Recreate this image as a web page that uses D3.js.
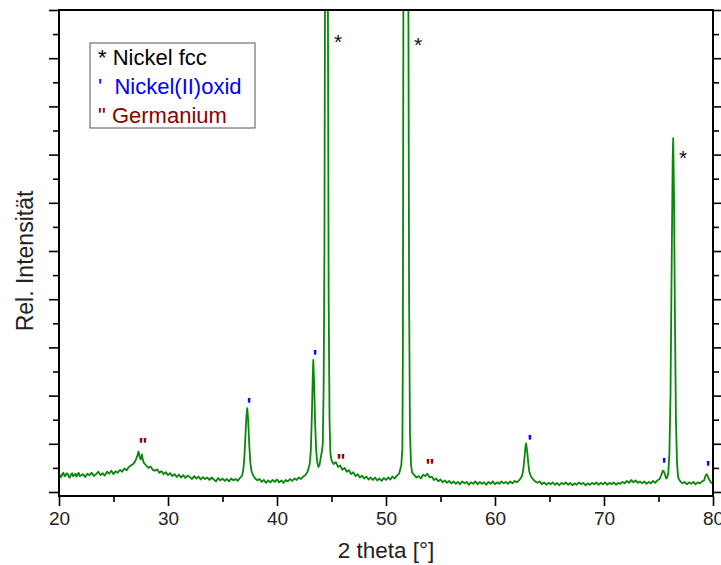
<!DOCTYPE html>
<html>
<head>
<meta charset="utf-8">
<script src="https://cdn.jsdelivr.net/npm/d3@7"></script>
<style>
  body { margin: 0; background: #fff; }
  text { font-family: Arial, "Liberation Sans", sans-serif; }
</style>
</head>
<body>
<script>
// XRD scan: [2 theta, rel. intensity]
var scan = [
  [20.0,38],[20.1,33],[20.2,31],[20.3,37],[20.4,40],[20.5,33],[20.6,34],[20.7,39],[20.8,37],[20.9,32],[21.0,30],[21.1,36],[21.2,39],[21.3,33],[21.4,35],[21.5,38],[21.6,32],[21.7,36],[21.8,40],[21.9,33],
  [22.0,34],[22.2,37],[22.4,31],[22.6,38],[22.8,35],[23.0,40],[23.2,33],[23.4,37],[23.6,42],[23.8,35],
  [24.0,39],[24.2,34],[24.4,42],[24.6,38],[24.8,44],[25.0,37],[25.2,43],[25.4,40],[25.6,46],[25.8,42],
  [26.0,49],[26.2,45],[26.4,52],[26.6,55],[26.8,58],[27.0,64],[27.1,70],[27.2,76],[27.3,84],[27.4,72],
  [27.5,68],[27.6,78],[27.7,66],[27.8,60],[28.0,55],[28.2,50],[28.4,53],[28.6,46],[28.8,44],[29.0,47],
  [29.2,40],[29.4,43],[29.6,37],[29.8,41],[30.0,35],[30.2,39],[30.4,33],[30.6,37],[30.8,31],[31.0,36],
  [31.2,30],[31.4,35],[31.6,29],[31.8,34],[32.0,31],[32.2,27],[32.4,33],[32.6,28],[32.8,32],[33.0,26],
  [33.2,31],[33.4,27],[33.6,30],[33.8,25],[34.0,30],[34.2,26],[34.4,22],[34.6,29],[34.8,24],[35.0,28],
  [35.2,23],[35.4,27],[35.6,22],[35.8,28],[36.0,24],[36.2,27],[36.4,23],[36.6,29],[36.8,34],[36.9,45],
  [37.0,70],[37.1,115],[37.2,160],[37.27,174],[37.35,150],[37.45,100],[37.55,62],[37.65,44],[37.8,35],[38.0,28],
  [38.2,24],[38.4,27],[38.6,21],[38.8,25],[39.0,19],[39.2,24],[39.4,20],[39.6,25],[39.8,21],[40.0,26],
  [40.2,20],[40.4,24],[40.6,19],[40.8,25],[41.0,22],[41.2,27],[41.4,23],[41.6,28],[41.8,25],[42.0,30],
  [42.2,27],[42.4,32],[42.6,35],[42.8,42],[43.0,58],[43.1,85],[43.2,160],[43.28,240],[43.33,274],[43.4,230],
  [43.5,140],[43.6,85],[43.7,60],[43.8,52],[43.9,56],[44.0,70],[44.1,82],[44.2,100],[44.28,220],[44.35,500],
  [44.42,1200],[44.5,2600],[44.58,2200],[44.66,1100],[44.74,400],[44.82,150],[44.9,80],[45.0,66],[45.2,58],[45.4,62],
  [45.6,52],[45.8,55],[46.0,46],[46.2,50],[46.4,42],[46.6,45],[46.8,37],[47.0,41],[47.2,33],[47.4,37],
  [47.6,30],[47.8,34],[48.0,28],[48.2,32],[48.4,26],[48.6,30],[48.8,25],[49.0,30],[49.2,24],[49.4,28],
  [49.6,23],[49.8,29],[50.0,25],[50.2,30],[50.4,26],[50.6,32],[50.8,28],[51.0,34],[51.2,38],[51.4,55],
  [51.5,90],[51.55,300],[51.6,1100],[51.7,1600],[51.82,1800],[51.95,1600],[52.05,1050],[52.12,400],[52.2,120],[52.3,55],
  [52.4,40],[52.6,35],[52.8,30],[53.0,33],[53.2,28],[53.4,36],[53.6,33],[53.8,38],[54.0,30],[54.2,32],
  [54.4,25],[54.6,28],[54.8,22],[55.0,26],[55.2,20],[55.4,24],[55.6,19],[55.8,23],[56.0,18],[56.2,22],
  [56.4,17],[56.6,21],[56.8,16],[57.0,22],[57.2,18],[57.4,21],[57.6,15],[57.8,20],[58.0,17],[58.2,22],
  [58.4,16],[58.6,21],[58.8,17],[59.0,20],[59.2,15],[59.4,21],[59.6,17],[59.8,22],[60.0,16],[60.2,20],
  [60.4,17],[60.6,22],[60.8,18],[61.0,21],[61.2,17],[61.4,22],[61.6,18],[61.8,23],[62.0,20],[62.2,24],
  [62.4,30],[62.5,35],[62.6,48],[62.7,70],[62.8,95],[62.85,101],[62.95,85],[63.05,60],[63.15,42],[63.3,32],
  [63.5,26],[63.7,22],[63.9,19],[64.1,22],[64.3,16],[64.5,20],[64.7,15],[64.9,19],[65.1,16],[65.3,20],
  [65.5,15],[65.7,19],[65.9,14],[66.1,19],[66.3,16],[66.5,20],[66.7,15],[66.9,19],[67.1,14],[67.3,18],
  [67.5,15],[67.7,20],[67.9,16],[68.1,19],[68.3,14],[68.5,18],[68.7,15],[68.9,19],[69.1,16],[69.3,20],
  [69.5,15],[69.7,19],[69.9,16],[70.1,20],[70.3,15],[70.5,19],[70.7,16],[70.9,20],[71.1,15],[71.3,19],
  [71.5,17],[71.7,21],[71.9,18],[72.1,23],[72.3,19],[72.5,25],[72.7,20],[72.9,24],[73.1,19],[73.3,22],
  [73.5,18],[73.7,22],[73.9,17],[74.1,21],[74.3,18],[74.5,23],[74.7,19],[74.9,24],[75.1,27],[75.25,35],
  [75.4,44],[75.5,42],[75.6,36],[75.7,28],[75.8,30],[75.9,40],[76.0,80],[76.1,200],[76.2,450],[76.3,690],
  [76.35,734],[76.42,620],[76.5,380],[76.6,150],[76.7,60],[76.8,30],[77.0,22],[77.2,18],[77.4,21],[77.6,16],
  [77.8,20],[78.0,17],[78.2,21],[78.4,16],[78.6,20],[78.8,18],[79.0,22],[79.2,25],[79.3,33],[79.4,37],
  [79.5,34],[79.6,28],[79.8,20],[80.0,18]
];

// reflex markers [2 theta, intensity]
var nickelMarks = [[45.6, 946], [52.94, 938], [77.25, 705]];
var oxideMarks = [[37.43, 191], [43.49, 292], [63.2, 114], [75.5, 68], [79.54, 60]];
var germaniumMarks = [[27.7, 108], [45.87, 75], [54.04, 66]];

var legendItems = [
  {text: "* Nickel fcc", color: "#000000"},
  {text: "'  Nickel(II)oxid", color: "#0000ff"},
  {text: "\" Germanium", color: "#8b0000"}
];

var xTicks = [20, 30, 40, 50, 60, 70, 80];
var xMinor = [25, 35, 45, 55, 65, 75];
var yMajor = d3.range(0, 1001, 100);
var yMinor = d3.range(50, 1000, 100);

var width = 721,
    height = 565;
var m = {left: 59, right: 713, top: 10, bottom: 496};

var svg = d3.select("body").append("svg")
    .attr("width", width)
    .attr("height", height);

var x = d3.scaleLinear().domain([20, 80]).range([m.left, m.right]);
var y = d3.scaleLinear().domain([-8.3, 1000]).range([m.bottom, m.top]);

svg.append("clipPath").attr("id", "plot")
  .append("rect")
    .attr("x", m.left).attr("y", m.top)
    .attr("width", m.right - m.left).attr("height", m.bottom - m.top);

var line = d3.line()
    .x(function(d){ return x(d[0]) })
    .y(function(d){ return y(d[1]) });

svg.append("path")
    .datum(scan)
    .attr("clip-path", "url(#plot)")
    .attr("fill", "none")
    .attr("stroke", "#0a870a")
    .attr("stroke-width", 1.8)
    .attr("stroke-linejoin", "round")
    .attr("d", line);

// axes
function styleAxis(g){
  g.select(".domain").remove();
  g.selectAll("line").attr("stroke", "#000").attr("stroke-width", 1.6);
  g.selectAll("text")
    .attr("font-size", "19px")
    .attr("fill", "#222");
}

svg.append("g")
    .attr("transform", "translate(0," + m.bottom + ")")
    .call(d3.axisBottom(x).tickValues(xTicks).tickSize(10).tickPadding(6).tickFormat(d3.format("d")))
    .call(styleAxis);
svg.append("g")
    .attr("transform", "translate(0," + m.bottom + ")")
    .call(d3.axisBottom(x).tickValues(xMinor).tickSize(6).tickFormat(""))
    .call(styleAxis);

[[d3.axisLeft, m.left], [d3.axisRight, m.right]].forEach(function(a){
  svg.append("g")
      .attr("transform", "translate(" + a[1] + ",0)")
      .call(a[0](y).tickValues(yMajor).tickSize(10).tickFormat(""))
      .call(styleAxis);
  svg.append("g")
      .attr("transform", "translate(" + a[1] + ",0)")
      .call(a[0](y).tickValues(yMinor).tickSize(6).tickFormat(""))
      .call(styleAxis);
});

svg.append("rect")
    .attr("x", m.left).attr("y", m.top)
    .attr("width", m.right - m.left).attr("height", m.bottom - m.top)
    .attr("fill", "none")
    .attr("stroke", "#000")
    .attr("stroke-width", 2);

// titles
svg.append("text")
    .attr("x", (m.left + m.right) / 2)
    .attr("y", 558)
    .attr("text-anchor", "middle")
    .attr("font-size", "22.5px")
    .attr("fill", "#222")
    .text("2 theta [°]");

svg.append("text")
    .attr("transform", "translate(33," + 261 + ") rotate(-90)")
    .attr("text-anchor", "middle")
    .attr("font-size", "23px")
    .attr("fill", "#222")
    .text("Rel. Intensität");

// reflex markers
function marks(data, sym, color, size, weight){
  svg.selectAll(null)
    .data(data)
    .enter().append("text")
    .attr("x", function(d){ return x(d[0]) })
    .attr("y", function(d){ return y(d[1]) })
    .attr("dy", "0.6em")
    .attr("text-anchor", "middle")
    .attr("font-size", size)
    .attr("font-weight", weight)
    .attr("fill", color)
    .text(sym);
}
marks(nickelMarks, "*", "#111", "21px", "normal");
marks(oxideMarks, "'", "#0000ff", "19px", "bold");
marks(germaniumMarks, "\"", "#8b0000", "19px", "bold");

// legend
var legend = svg.append("g");
legend.append("rect")
    .attr("x", 90).attr("y", 43)
    .attr("width", 165).attr("height", 85)
    .attr("fill", "#fff")
    .attr("stroke", "#555")
    .attr("stroke-width", 1);

legend.selectAll("text")
  .data(legendItems)
  .enter().append("text")
    .attr("x", 98)
    .attr("y", function(d, i){ return 65 + i * 29 })
    .attr("font-size", "22px")
    .attr("fill", function(d){ return d.color })
    .style("white-space", "pre")
    .text(function(d){ return d.text });
</script>
</body>
</html>
